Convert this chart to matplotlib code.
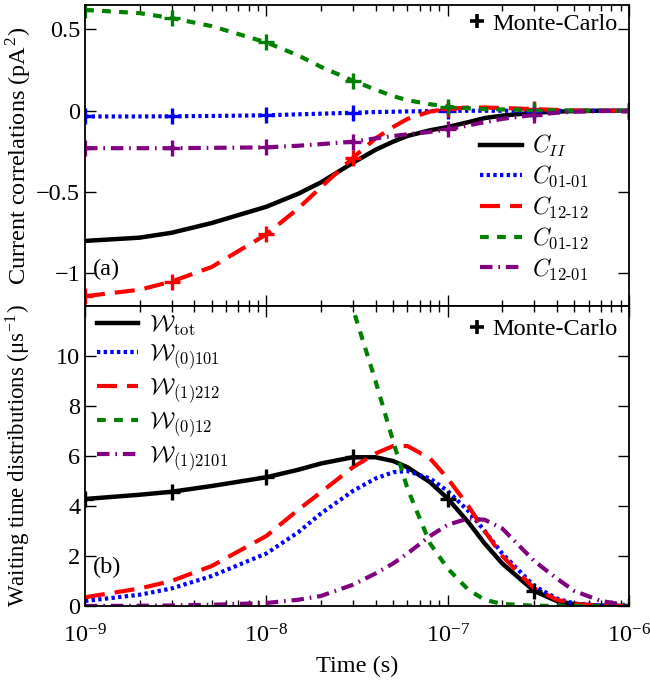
import numpy as np
import matplotlib
matplotlib.use("Agg")
import matplotlib.pyplot as plt
from matplotlib.ticker import FuncFormatter, LogLocator, MultipleLocator, FixedLocator, NullFormatter

plt.rcParams['font.family'] = ['Liberation Serif', 'DejaVu Serif']
plt.rcParams['mathtext.fontset'] = 'cm'

# time grid (s)
t = [1e-9, 2e-9, 3e-9, 5e-9, 1e-8, 1.5e-8, 2e-8, 3e-8, 4e-8, 5e-8, 6e-8,
     8e-8, 1e-7, 1.3e-7, 1.6e-7, 2e-7, 3e-7, 4e-7, 5e-7, 7e-7, 1e-6]

# panel (a): current correlations (pA^2)
c_II = [-0.80, -0.78, -0.75, -0.69, -0.59, -0.51, -0.44, -0.32, -0.24, -0.19, -0.155,
        -0.12, -0.10, -0.07, -0.045, -0.03, -0.012, -0.005, -0.002, 0.0, 0.0]
c_0101 = [-0.035, -0.035, -0.034, -0.032, -0.028, -0.022, -0.018, -0.012, -0.008, -0.006, -0.004,
          -0.002, -0.001, 0.0, 0.0, 0.0, 0.0, 0.0, 0.0, 0.0, 0.0]
c_1212 = [-1.14, -1.10, -1.05, -0.96, -0.76, -0.60, -0.47, -0.29, -0.17, -0.10, -0.05,
          -0.005, 0.012, 0.02, 0.02, 0.017, 0.01, 0.005, 0.002, 0.0, 0.0]
c_0112 = [0.62, 0.60, 0.57, 0.52, 0.42, 0.34, 0.27, 0.185, 0.13, 0.09, 0.065,
          0.04, 0.025, 0.015, 0.01, 0.008, 0.004, 0.002, 0.001, 0.0, 0.0]
c_1201 = [-0.23, -0.23, -0.23, -0.228, -0.225, -0.215, -0.205, -0.19, -0.17, -0.155, -0.145,
          -0.13, -0.115, -0.09, -0.07, -0.05, -0.025, -0.012, -0.006, -0.002, 0.0]

# panel (b): waiting time distributions (1/us)
w_tot = [4.28, 4.45, 4.57, 4.8, 5.15, 5.45, 5.7, 5.95, 5.95, 5.8, 5.55,
         4.95, 4.3, 3.35, 2.5, 1.7, 0.6, 0.2, 0.07, 0.01, 0.0]
w_0101 = [0.2, 0.45, 0.7, 1.2, 2.1, 2.95, 3.7, 4.6, 5.1, 5.35, 5.4,
          5.1, 4.6, 3.8, 3.0, 2.1, 0.8, 0.3, 0.1, 0.02, 0.0]
w_1212 = [0.35, 0.7, 1.0, 1.6, 2.8, 3.85, 4.55, 5.55, 6.1, 6.4, 6.4,
          5.9, 5.1, 4.0, 3.0, 2.0, 0.7, 0.25, 0.08, 0.01, 0.0]
w_012 = [np.nan, np.nan, np.nan, np.nan, np.nan, np.nan, 15.5, 11.9, 9.0, 6.6, 4.7,
         2.5, 1.5, 0.65, 0.25, 0.08, 0.01, 0.0, 0.0, 0.0, 0.0]
w_12101 = [0.0, 0.01, 0.02, 0.05, 0.12, 0.25, 0.4, 0.85, 1.3, 1.7, 2.1,
           2.8, 3.25, 3.5, 3.45, 3.1, 1.8, 1.1, 0.6, 0.2, 0.02]

# Monte-Carlo sample times
mc_t = [1e-9, 3e-9, 1e-8, 3e-8, 1e-7, 3e-7, 1e-6]

blue, red, green, purple = '#0000ff', '#ff0000', '#008000', '#800080'
styles = {
    'solid': dict(color='k', lw=3.2, ls='-'),
    'dot': dict(color=blue, lw=3.0, ls=(0, (0.8, 0.8))),
    'dash': dict(color=red, lw=3.0, ls=(0, (4.8, 2.4))),
    'sdash': dict(color=green, lw=3.0, ls=(0, (2.1, 2.0))),
    'dashdot': dict(color=purple, lw=3.0, ls=(0, (3.0, 1.4, 0.4, 1.4))),
}


def mc_vals(vals):
    return [vals[t.index(x)] for x in mc_t]


fig = plt.figure(figsize=(6.5, 6.82), dpi=100)
L, R = 85 / 650, 629 / 650
ax1 = fig.add_axes([L, 1 - 306 / 682, R - L, 301 / 682])
ax2 = fig.add_axes([L, 1 - 606 / 682, R - L, 300 / 682], sharex=ax1)

legkw = dict(frameon=False, fontsize=17, handlelength=1.75, labelspacing=0.22,
             borderpad=0, borderaxespad=0, handletextpad=0.45)
mckw = dict(loc='upper right', frameon=False, fontsize=17.5, handlelength=0.6,
            handletextpad=0.3, borderaxespad=0, borderpad=0)

# top panel
top = [(c_II, 'solid', r'$C_{II}$'),
       (c_0101, 'dot', r'$C_{\mathrm{01\text{-}01}}$'),
       (c_1212, 'dash', r'$C_{\mathrm{12\text{-}12}}$'),
       (c_0112, 'sdash', r'$C_{\mathrm{01\text{-}12}}$'),
       (c_1201, 'dashdot', r'$C_{\mathrm{12\text{-}01}}$')]
handles = []
for vals, st, lab in top:
    h, = ax1.plot(t, vals, label=lab, **styles[st])
    handles.append(h)
for vals, st, lab in top[1:]:
    ax1.plot(mc_t, mc_vals(vals), ls='none', marker='+', ms=12, mew=2.4,
             color=styles[st]['color'])

leg = ax1.legend(handles=handles, loc='upper left', bbox_to_anchor=(0.727, 0.575), **legkw)
ax1.add_artist(leg)
mc1, = ax1.plot([], [], ls='none', marker='+', ms=10, mew=2.6, color='k')
ax1.legend([mc1], ['Monte-Carlo'], bbox_to_anchor=(0.978, 0.975), **mckw)
ax1.text(0.015, 0.12, '(a)', transform=ax1.transAxes, fontsize=17.5, va='center')

ax1.set_ylim(-1.2, 0.65)
ax1.set_xscale('log')
ax1.set_xlim(1e-9, 1e-6)
ax1.yaxis.set_major_locator(MultipleLocator(0.5))
ax1.yaxis.set_major_formatter(FuncFormatter(lambda v, p: ('%g' % v).replace('-', '\u2212')))
ax1.set_ylabel('Current correlations (pA$^{\\mathregular{2}}$)', fontsize=17.5)
ax1.yaxis.set_label_coords(-0.096, 0.5)
ax1.tick_params(labelbottom=False)

# bottom panel
bot = [(w_tot, 'solid', r'$\mathcal{W}_{\mathrm{tot}}$'),
       (w_0101, 'dot', r'$\mathcal{W}_{\mathrm{(0)101}}$'),
       (w_1212, 'dash', r'$\mathcal{W}_{\mathrm{(1)212}}$'),
       (w_012, 'sdash', r'$\mathcal{W}_{\mathrm{(0)12}}$'),
       (w_12101, 'dashdot', r'$\mathcal{W}_{\mathrm{(1)2101}}$')]
handles = []
for vals, st, lab in bot:
    h, = ax2.plot(t, vals, label=lab, **styles[st])
    handles.append(h)
ax2.plot(mc_t, mc_vals(w_tot), ls='none', marker='+', ms=12, mew=2.4, color='k')

leg = ax2.legend(handles=handles, loc='upper left', bbox_to_anchor=(0.022, 0.975), **legkw)
ax2.add_artist(leg)
mc2, = ax2.plot([], [], ls='none', marker='+', ms=10, mew=2.6, color='k')
ax2.legend([mc2], ['Monte-Carlo'], bbox_to_anchor=(0.978, 0.96), **mckw)
ax2.text(0.015, 0.13, '(b)', transform=ax2.transAxes, fontsize=17.5, va='center')

ax2.set_ylim(0, 12)
ax2.yaxis.set_major_locator(FixedLocator([0, 2, 4, 6, 8, 10]))
ax2.yaxis.set_major_formatter(FuncFormatter(lambda v, p: '%g' % v))
ax2.set_ylabel('Waiting time distributions (\u03bcs$^{\\mathregular{-1}}$)', fontsize=16.5)
ax2.yaxis.set_label_coords(-0.096, 0.5)
ax2.set_xlabel('Time (s)', fontsize=17.5, labelpad=6)
ax2.xaxis.set_major_locator(LogLocator(base=10, numticks=10))
ax2.xaxis.set_minor_locator(LogLocator(base=10, subs=np.arange(2, 10), numticks=10))
ax2.xaxis.set_minor_formatter(NullFormatter())
ax2.xaxis.set_major_formatter(FuncFormatter(
    lambda v, p: r'$\mathregular{10^{%d}}$' % round(np.log10(v))))

for ax in (ax1, ax2):
    for s in ax.spines.values():
        s.set_linewidth(1.3)
    ax.tick_params(which='both', direction='in', top=True, right=True, labelsize=17.5, width=1.0)
    ax.tick_params(which='major', length=8)
    ax.tick_params(which='minor', length=4)
ax2.tick_params(axis='x', pad=13)

fig.savefig('out.png', dpi=100)
